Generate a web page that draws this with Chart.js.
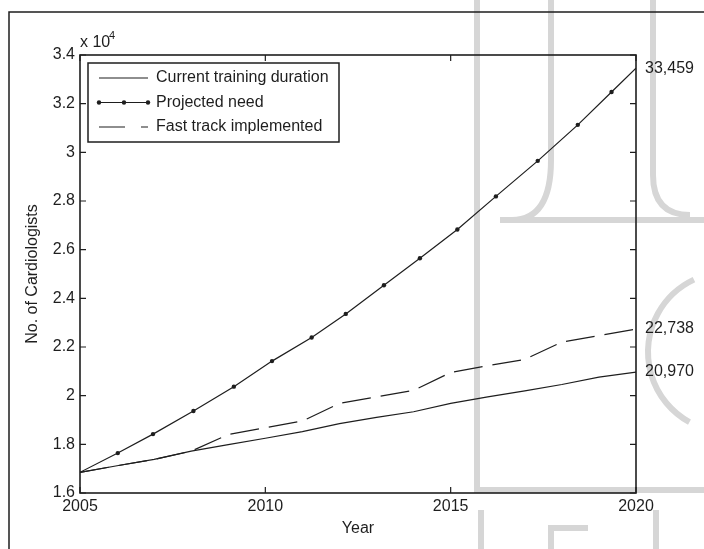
<!DOCTYPE html>
<html>
<head>
<meta charset="utf-8">
<script src="https://cdn.jsdelivr.net/npm/chart.js@4.4.0/dist/chart.umd.min.js"></script>
<style>
  body { margin: 0; background: #fff; }
  #wrap { width: 704px; height: 549px; }
</style>
</head>
<body>
<div id="wrap"><canvas id="chart1" width="704" height="549"></canvas></div>
<script>
// years for the two supply series
const years = [2005, 2006, 2007, 2008, 2009, 2010, 2011, 2012, 2013, 2014, 2015, 2016, 2017, 2018, 2019, 2020];
const currentTraining = [16850, 17120, 17380, 17720, 17990, 18250, 18520, 18850, 19110, 19340, 19680, 19950, 20200, 20460, 20760, 20970];
const fastTrack = [16850, 17120, 17380, 17720, 18400, 18680, 18960, 19680, 19950, 20220, 20950, 21230, 21490, 22200, 22470, 22738];

// projected need, read at the marker positions
const needYears = [2005, 2006.02, 2006.97, 2008.06, 2009.15, 2010.18, 2011.25, 2012.17, 2013.2, 2014.17, 2015.18, 2016.22, 2017.35, 2018.43, 2019.34, 2020];
const projectedNeed = [16850, 17640, 18420, 19370, 20370, 21420, 22390, 23360, 24540, 25650, 26830, 28190, 29650, 31130, 32480, 33459];

const xTicks = [2005, 2010, 2015, 2020];
const yTicks = [16000, 18000, 20000, 22000, 24000, 26000, 28000, 30000, 32000, 34000];
const seriesNames = ["Current training duration", "Projected need", "Fast track implemented"];

const ink = '#1e1e1e';
const fontFamily = '"Liberation Sans", Arial, Helvetica, sans-serif';

const ctx1 = document.getElementById("chart1").getContext("2d");

const toPoints = (xs, ys) => xs.map((x, i) => ({ x: x, y: ys[i] }));

// light grey logo strokes behind the figure
const watermark = {
    id: 'watermark',
    beforeDraw(chart) {
        const c = chart.ctx;
        c.save();
        c.strokeStyle = '#d6d6d6';
        c.lineWidth = 6;
        c.lineCap = 'butt';
        c.beginPath();
        c.moveTo(477, 0); c.lineTo(477, 490); c.lineTo(704, 490);
        c.moveTo(551, 0); c.lineTo(551, 160);
        c.quadraticCurveTo(551, 220, 512, 220);
        c.lineTo(500, 220);
        c.moveTo(512, 220); c.lineTo(704, 220);
        c.moveTo(653, 0); c.lineTo(653, 175);
        c.quadraticCurveTo(653, 215, 690, 215);
        c.stroke();
        c.beginPath();
        c.arc(728, 352, 80, Math.PI * 0.66, Math.PI * 1.36);
        c.stroke();
        c.beginPath();
        c.moveTo(481, 510); c.lineTo(481, 549);
        c.moveTo(551, 549); c.lineTo(551, 528); c.lineTo(588, 528);
        c.moveTo(656, 510); c.lineTo(656, 549);
        c.stroke();
        // figure frame
        c.strokeStyle = ink;
        c.lineWidth = 1.5;
        c.beginPath();
        c.moveTo(9, 549); c.lineTo(9, 12); c.lineTo(704, 12);
        c.stroke();
        c.restore();
    }
};

// matlab style box, inward ticks, legend and end labels
const decorations = {
    id: 'decorations',
    afterDatasetsDraw(chart) {
        const c = chart.ctx;
        const a = chart.chartArea;
        const xs = chart.scales.x;
        const ys = chart.scales.y;
        c.save();
        c.strokeStyle = ink;
        c.lineWidth = 1.6;
        c.strokeRect(a.left, a.top, a.right - a.left, a.bottom - a.top);
        c.lineWidth = 1.2;
        c.beginPath();
        xTicks.forEach(v => {
            const px = xs.getPixelForValue(v);
            c.moveTo(px, a.bottom); c.lineTo(px, a.bottom - 6);
            c.moveTo(px, a.top); c.lineTo(px, a.top + 6);
        });
        yTicks.forEach(v => {
            const py = ys.getPixelForValue(v);
            c.moveTo(a.left, py); c.lineTo(a.left + 6, py);
            c.moveTo(a.right, py); c.lineTo(a.right - 6, py);
        });
        c.stroke();

        // legend
        const lx = 88, ly = 63, lw = 251, lh = 79;
        c.fillStyle = '#fff';
        c.fillRect(lx, ly, lw, lh);
        c.lineWidth = 1.5;
        c.strokeRect(lx, ly, lw, lh);
        const rows = [78, 102.5, 127];
        c.lineWidth = 1.2;
        c.beginPath();
        c.moveTo(99, rows[0]); c.lineTo(148, rows[0]);
        c.moveTo(99, rows[1]); c.lineTo(148, rows[1]);
        c.stroke();
        c.fillStyle = ink;
        [99, 124, 148].forEach(px => {
            c.beginPath(); c.arc(px, rows[1], 2.2, 0, Math.PI * 2); c.fill();
        });
        c.setLineDash([26, 16]);
        c.beginPath();
        c.moveTo(99, rows[2]); c.lineTo(148, rows[2]);
        c.stroke();
        c.setLineDash([]);
        c.font = '16px ' + fontFamily;
        c.textBaseline = 'middle';
        c.textAlign = 'left';
        seriesNames.forEach((name, i) => c.fillText(name, 156, rows[i]));

        // values at the end of each line
        const ends = [currentTraining[currentTraining.length - 1], projectedNeed[projectedNeed.length - 1], fastTrack[fastTrack.length - 1]];
        ends.forEach(v => {
            c.fillText(v.toLocaleString('en-US'), a.right + 9, ys.getPixelForValue(v));
        });

        // exponent label
        c.textBaseline = 'alphabetic';
        c.fillText('x 10', a.left, a.top - 8);
        c.font = '11px ' + fontFamily;
        c.fillText('4', a.left + 29, a.top - 16);
        c.restore();
    }
};

const chart1 = new Chart(ctx1, {
    type: 'line',
    data: {
        datasets: [{
            label: seriesNames[0],
            data: toPoints(years, currentTraining),
            borderColor: ink,
            borderWidth: 1.2,
            pointRadius: 0,
            fill: false
        }, {
            label: seriesNames[1],
            data: toPoints(needYears, projectedNeed),
            borderColor: ink,
            borderWidth: 1.2,
            pointRadius: needYears.map((y, i) => (i === 0 || i === needYears.length - 1) ? 0 : 2.2),
            pointBackgroundColor: ink,
            pointBorderWidth: 0,
            fill: false
        }, {
            label: seriesNames[2],
            data: toPoints(years, fastTrack),
            borderColor: ink,
            borderWidth: 1.2,
            borderDash: [29, 10],
            pointRadius: 0,
            fill: false
        }]
    },
    options: {
        responsive: false,
        animation: false,
        layout: {
            padding: { left: 0, right: 68, top: 55, bottom: 0 }
        },
        plugins: {
            legend: { display: false },
            tooltip: { enabled: false }
        },
        scales: {
            x: {
                type: 'linear',
                min: 2005,
                max: 2020,
                grid: { display: false, drawTicks: false },
                border: { display: false },
                afterFit: s => { s.height = 56; },
                afterBuildTicks: s => { s.ticks = xTicks.map(v => ({ value: v })); },
                ticks: {
                    color: ink,
                    padding: 4,
                    font: { family: fontFamily, size: 16 },
                    callback: v => String(v)
                },
                title: {
                    display: true,
                    text: 'Year',
                    color: ink,
                    font: { family: fontFamily, size: 16 },
                    padding: { top: 4, bottom: 11 }
                }
            },
            y: {
                min: 16000,
                max: 34000,
                grid: { display: false, drawTicks: false },
                border: { display: false },
                afterFit: s => { s.width = 80; },
                afterBuildTicks: s => { s.ticks = yTicks.map(v => ({ value: v })); },
                ticks: {
                    color: ink,
                    padding: 5,
                    font: { family: fontFamily, size: 16 },
                    callback: v => String(v / 10000)
                },
                title: {
                    display: true,
                    text: 'No. of Cardiologists',
                    color: ink,
                    font: { family: fontFamily, size: 16 },
                    padding: { top: 23, bottom: 4 }
                }
            }
        }
    },
    plugins: [watermark, decorations]
});
</script>
</body>
</html>
